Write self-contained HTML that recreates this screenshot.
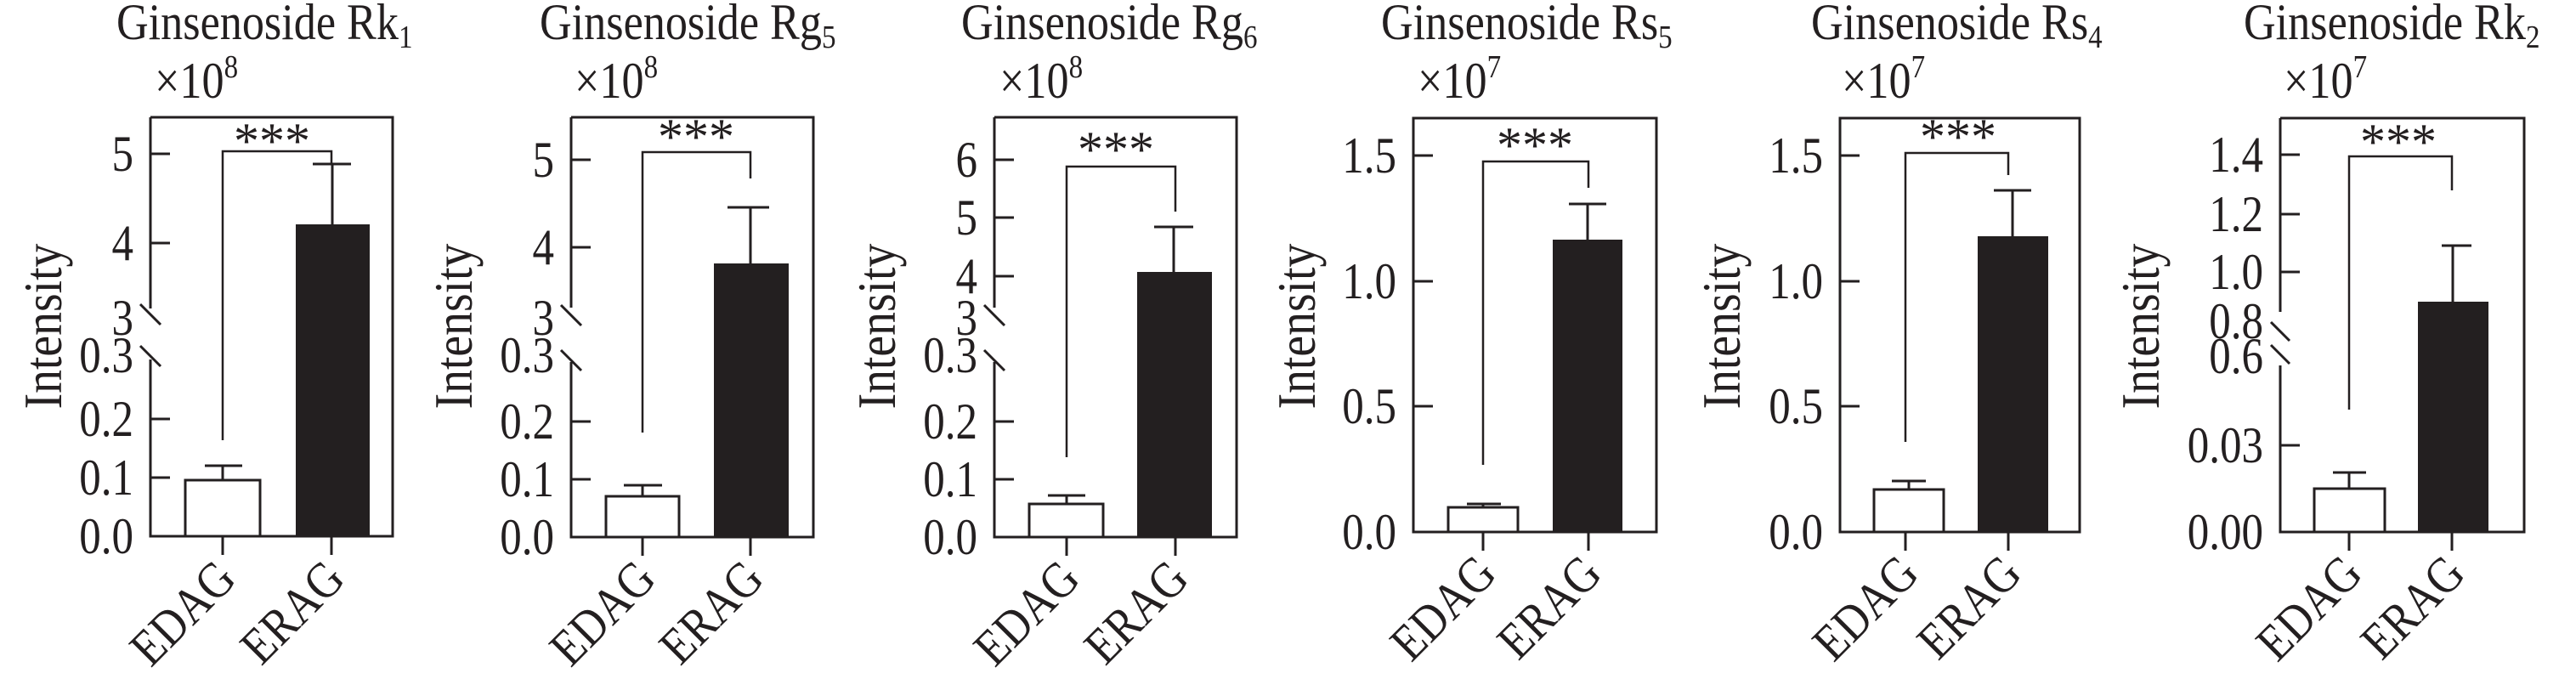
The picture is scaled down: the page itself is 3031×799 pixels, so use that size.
<!DOCTYPE html>
<html><head><meta charset="utf-8"><style>
html,body{margin:0;padding:0;background:#fff}
svg{display:block}
text{font-family:"Liberation Serif","DejaVu Serif",serif;fill:#231f20}
.t{font-size:60px;text-anchor:end}
.ti{font-size:60px}
.sub{font-size:38px}
.yl{font-size:64px;text-anchor:middle}
.xl{font-size:60px;text-anchor:end}
.st{font-size:60px;text-anchor:middle}
.ax{stroke:#231f20;stroke-width:3;fill:none}
.br{stroke:#231f20;stroke-width:2.5;fill:none}
</style></head><body>
<svg width="3031" height="799" viewBox="0 0 3031 799" xmlns="http://www.w3.org/2000/svg">

<!-- Panel 1 -->
<text class="ti" transform="translate(137,46) scale(0.87,1)">Ginsenoside Rk<tspan class="sub" dy="10">1</tspan></text>
<text class="ti" transform="translate(182,115) scale(0.87,1)">×10<tspan class="sub" dy="-24">8</tspan></text>
<text class="yl" transform="translate(72,384) rotate(-90) scale(0.87,1)">Intensity</text>
<path class="ax" d="M177,138 H462 V631 H177 V423 M177,363 V138"/>
<path class="ax" d="M165,358 L189,382 M165,407 L189,431"/>
<path class="ax" d="M177,181 h23 M177,286 h23 M177,493 h23 M177,562 h23 M262,631 v22 M390,631 v22"/>
<text class="t" transform="translate(157,201) scale(0.85,1)">5</text><text class="t" transform="translate(157,306) scale(0.85,1)">4</text>
<text class="t" transform="translate(157,394) scale(0.85,1)">3</text><text class="t" transform="translate(157,438) scale(0.85,1)">0.3</text>
<text class="t" transform="translate(157,513) scale(0.85,1)">0.2</text><text class="t" transform="translate(157,582) scale(0.85,1)">0.1</text><text class="t" transform="translate(157,651) scale(0.85,1)">0.0</text>
<rect x="218" y="565" width="88" height="66" fill="#fff" stroke="#231f20" stroke-width="3"/>
<path class="ax" d="M262,565 V548 M241,548 H285"/>
<rect x="348" y="264" width="87" height="367" fill="#231f20"/>
<path class="ax" d="M391,264 V193 M368,193 H413"/>
<path class="br" d="M262,518 V178 H390 V193"/>
<text class="st" x="320" y="186">***</text>
<text class="xl" transform="translate(280,684) rotate(-45) scale(0.87,1)">EDAG</text>
<text class="xl" transform="translate(408,684) rotate(-45) scale(0.87,1)">ERAG</text>

<!-- Panel 2 -->
<text class="ti" transform="translate(635,46) scale(0.87,1)">Ginsenoside Rg<tspan class="sub" dy="10">5</tspan></text>
<text class="ti" transform="translate(676,115) scale(0.87,1)">×10<tspan class="sub" dy="-24">8</tspan></text>
<text class="yl" transform="translate(555,384) rotate(-90) scale(0.87,1)">Intensity</text>
<path class="ax" d="M672,138 H957 V632 H672 V426 M672,362 V138"/>
<path class="ax" d="M660,359 L684,383 M660,412 L684,436"/>
<path class="ax" d="M672,188 h23 M672,291 h23 M672,496 h23 M672,564 h23 M756,632 v22 M883,632 v22"/>
<text class="t" transform="translate(652,208) scale(0.85,1)">5</text><text class="t" transform="translate(652,311) scale(0.85,1)">4</text>
<text class="t" transform="translate(652,394) scale(0.85,1)">3</text><text class="t" transform="translate(652,438) scale(0.85,1)">0.3</text>
<text class="t" transform="translate(652,516) scale(0.85,1)">0.2</text><text class="t" transform="translate(652,584) scale(0.85,1)">0.1</text><text class="t" transform="translate(652,652) scale(0.85,1)">0.0</text>
<rect x="713" y="584" width="86" height="48" fill="#fff" stroke="#231f20" stroke-width="3"/>
<path class="ax" d="M756,584 V571 M734,571 H779"/>
<rect x="840" y="310" width="88" height="322" fill="#231f20"/>
<path class="ax" d="M883,310 V244 M856,244 H905"/>
<path class="br" d="M756,509 V179 H883 V210"/>
<text class="st" x="819" y="181">***</text>
<text class="xl" transform="translate(774,684) rotate(-45) scale(0.87,1)">EDAG</text>
<text class="xl" transform="translate(901,684) rotate(-45) scale(0.87,1)">ERAG</text>

<!-- Panel 3 -->
<text class="ti" transform="translate(1131,46) scale(0.87,1)">Ginsenoside Rg<tspan class="sub" dy="10">6</tspan></text>
<text class="ti" transform="translate(1176,115) scale(0.87,1)">×10<tspan class="sub" dy="-24">8</tspan></text>
<text class="yl" transform="translate(1053,384) rotate(-90) scale(0.87,1)">Intensity</text>
<path class="ax" d="M1170,138 H1455 V632 H1170 V426 M1170,362 V138"/>
<path class="ax" d="M1158,359 L1182,383 M1158,412 L1182,436"/>
<path class="ax" d="M1170,188 h23 M1170,256 h23 M1170,325 h23 M1170,496 h23 M1170,564 h23 M1255,632 v22 M1383,632 v22"/>
<text class="t" transform="translate(1150,208) scale(0.85,1)">6</text><text class="t" transform="translate(1150,276) scale(0.85,1)">5</text><text class="t" transform="translate(1150,345) scale(0.85,1)">4</text>
<text class="t" transform="translate(1150,394) scale(0.85,1)">3</text><text class="t" transform="translate(1150,438) scale(0.85,1)">0.3</text>
<text class="t" transform="translate(1150,516) scale(0.85,1)">0.2</text><text class="t" transform="translate(1150,584) scale(0.85,1)">0.1</text><text class="t" transform="translate(1150,652) scale(0.85,1)">0.0</text>
<rect x="1211" y="593" width="87" height="39" fill="#fff" stroke="#231f20" stroke-width="3"/>
<path class="ax" d="M1255,593 V583 M1233,583 H1277"/>
<rect x="1338" y="320" width="88" height="312" fill="#231f20"/>
<path class="ax" d="M1381,320 V267 M1358,267 H1404"/>
<path class="br" d="M1255,538 V196 H1383 V249"/>
<text class="st" x="1313" y="196">***</text>
<text class="xl" transform="translate(1273,684) rotate(-45) scale(0.87,1)">EDAG</text>
<text class="xl" transform="translate(1401,684) rotate(-45) scale(0.87,1)">ERAG</text>

<!-- Panel 4 -->
<text class="ti" transform="translate(1625,46) scale(0.87,1)">Ginsenoside Rs<tspan class="sub" dy="10">5</tspan></text>
<text class="ti" transform="translate(1668,115) scale(0.87,1)">×10<tspan class="sub" dy="-24">7</tspan></text>
<text class="yl" transform="translate(1547,384) rotate(-90) scale(0.87,1)">Intensity</text>
<rect class="ax" x="1663" y="139" width="286" height="487"/>
<path class="ax" d="M1663,183 h23 M1663,331 h23 M1663,478 h23 M1745,626 v22 M1869,626 v22"/>
<text class="t" transform="translate(1643,203) scale(0.85,1)">1.5</text><text class="t" transform="translate(1643,351) scale(0.85,1)">1.0</text>
<text class="t" transform="translate(1643,498) scale(0.85,1)">0.5</text><text class="t" transform="translate(1643,646) scale(0.85,1)">0.0</text>
<rect x="1704" y="597" width="82" height="29" fill="#fff" stroke="#231f20" stroke-width="3"/>
<path class="ax" d="M1745,597 V593 M1726,593 H1766"/>
<rect x="1827" y="282" width="82" height="344" fill="#231f20"/>
<path class="ax" d="M1868,282 V240 M1846,240 H1890"/>
<path class="br" d="M1745,547 V190 H1869 V221"/>
<text class="st" x="1806" y="191">***</text>
<text class="xl" transform="translate(1763,678) rotate(-45) scale(0.87,1)">EDAG</text>
<text class="xl" transform="translate(1887,678) rotate(-45) scale(0.87,1)">ERAG</text>

<!-- Panel 5 -->
<text class="ti" transform="translate(2131,46) scale(0.87,1)">Ginsenoside Rs<tspan class="sub" dy="10">4</tspan></text>
<text class="ti" transform="translate(2167,115) scale(0.87,1)">×10<tspan class="sub" dy="-24">7</tspan></text>
<text class="yl" transform="translate(2047,384) rotate(-90) scale(0.87,1)">Intensity</text>
<rect class="ax" x="2165" y="139" width="282" height="487"/>
<path class="ax" d="M2165,183 h23 M2165,331 h23 M2165,478 h23 M2242,626 v22 M2363,626 v22"/>
<text class="t" transform="translate(2145,203) scale(0.85,1)">1.5</text><text class="t" transform="translate(2145,351) scale(0.85,1)">1.0</text>
<text class="t" transform="translate(2145,498) scale(0.85,1)">0.5</text><text class="t" transform="translate(2145,646) scale(0.85,1)">0.0</text>
<rect x="2205" y="576" width="82" height="50" fill="#fff" stroke="#231f20" stroke-width="3"/>
<path class="ax" d="M2246,576 V566 M2226,566 H2266"/>
<rect x="2327" y="278" width="83" height="348" fill="#231f20"/>
<path class="ax" d="M2368,278 V224 M2346,224 H2390"/>
<path class="br" d="M2242,520 V180 H2363 V206"/>
<text class="st" x="2304" y="181">***</text>
<text class="xl" transform="translate(2260,678) rotate(-45) scale(0.87,1)">EDAG</text>
<text class="xl" transform="translate(2381,678) rotate(-45) scale(0.87,1)">ERAG</text>

<!-- Panel 6 -->
<text class="ti" transform="translate(2640,46) scale(0.87,1)">Ginsenoside Rk<tspan class="sub" dy="10">2</tspan></text>
<text class="ti" transform="translate(2687,115) scale(0.87,1)">×10<tspan class="sub" dy="-24">7</tspan></text>
<text class="yl" transform="translate(2540,384) rotate(-90) scale(0.87,1)">Intensity</text>
<path class="ax" d="M2683,139 H2970 V626 H2683 V430 M2683,367 V139"/>
<path class="ax" d="M2672,379 L2694,401 M2672,406 L2694,428"/>
<path class="ax" d="M2683,182 h23 M2683,252 h23 M2683,320 h23 M2683,524 h23 M2764,626 v22 M2885,626 v22"/>
<text class="t" transform="translate(2663,202) scale(0.85,1)">1.4</text><text class="t" transform="translate(2663,272) scale(0.85,1)">1.2</text><text class="t" transform="translate(2663,340) scale(0.85,1)">1.0</text>
<text class="t" transform="translate(2663,398) scale(0.85,1)">0.8</text><text class="t" transform="translate(2663,439) scale(0.85,1)">0.6</text>
<text class="t" transform="translate(2663,544) scale(0.85,1)">0.03</text><text class="t" transform="translate(2663,646) scale(0.85,1)">0.00</text>
<rect x="2723" y="575" width="83" height="51" fill="#fff" stroke="#231f20" stroke-width="3"/>
<path class="ax" d="M2764,575 V556 M2745,556 H2784"/>
<rect x="2845" y="355" width="83" height="271" fill="#231f20"/>
<path class="ax" d="M2886,355 V289 M2873,289 H2908"/>
<path class="br" d="M2764,482 V184 H2885 V224"/>
<text class="st" x="2822" y="187">***</text>
<text class="xl" transform="translate(2782,678) rotate(-45) scale(0.87,1)">EDAG</text>
<text class="xl" transform="translate(2903,678) rotate(-45) scale(0.87,1)">ERAG</text>

</svg>
</body></html>
